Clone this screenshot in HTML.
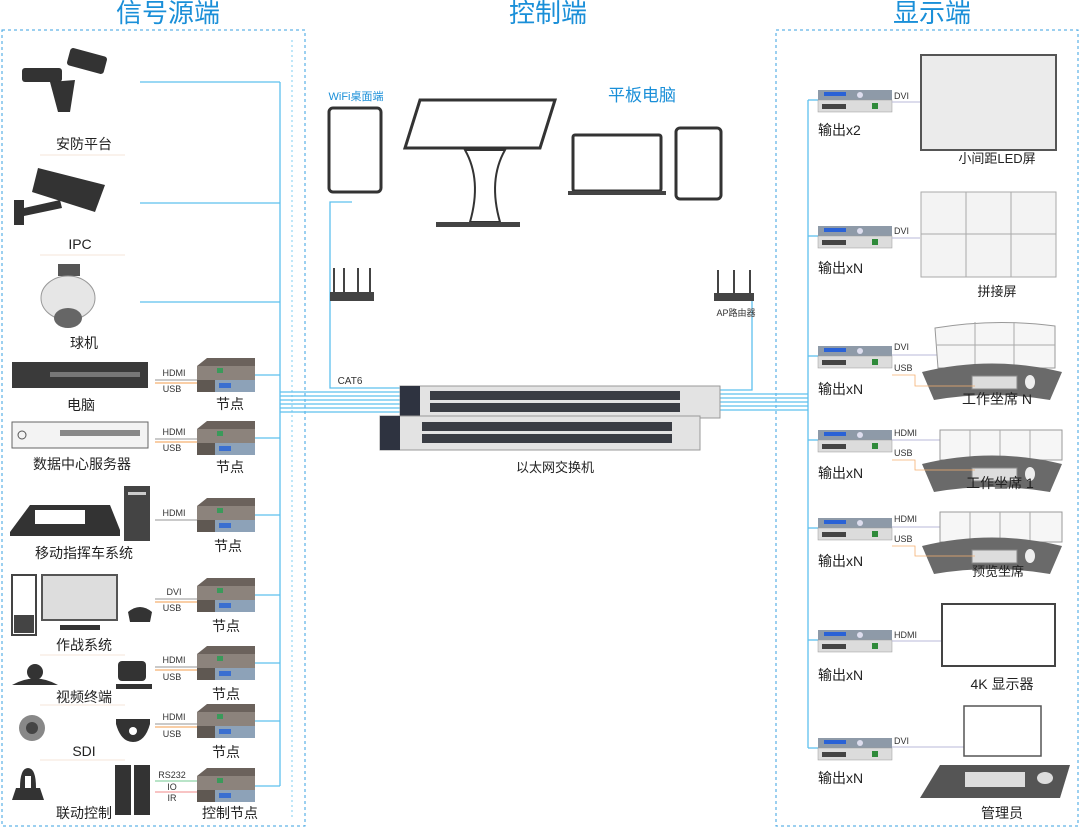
<!DOCTYPE html>
<html><head><meta charset="utf-8"><style>
html,body{margin:0;padding:0;background:#fff;}
svg{display:block;font-family:"Liberation Sans","Noto Sans CJK SC",sans-serif;}
</style></head><body>
<svg width="1080" height="828" viewBox="0 0 1080 828" xmlns="http://www.w3.org/2000/svg">
<defs>
<g id="node">
 <path d="M0 8 L10 0 L58 0 L58 22 L0 22 Z" fill="#6b625c"/>
 <path d="M0 8 L58 8 L58 22 L0 22 Z" fill="#8c837c"/>
 <rect x="20" y="10" width="6" height="5" fill="#3a9a5a"/>
 <rect x="0" y="22" width="58" height="12" fill="#5f5852"/>
 <rect x="18" y="22" width="40" height="12" fill="#8da2b8"/>
 <rect x="22" y="25" width="12" height="5" fill="#3a6fd0"/>
</g>
<g id="out">
 <rect x="0" y="0" width="74" height="10" fill="#8e9aa8"/>
 <rect x="6" y="2" width="22" height="4" fill="#2a62d6"/>
 <circle cx="42" cy="5" r="3" fill="#dde"/>
 <rect x="0" y="10" width="74" height="12" fill="#dcdcdc" stroke="#999" stroke-width="0.5"/>
 <rect x="4" y="14" width="24" height="5" fill="#444"/>
 <rect x="54" y="13" width="6" height="6" fill="#2f8a3a"/>
</g>
<g id="desk">
 <path d="M0 22 Q70 5 140 22 L128 50 Q70 40 12 50 Z" fill="#6a6a6a"/>
 <rect x="50" y="26" width="45" height="13" fill="#ddd" stroke="#888"/>
 <ellipse cx="108" cy="32" rx="5" ry="7" fill="#eee"/>
</g>
</defs>

<rect x="2" y="30" width="303" height="796" fill="none" stroke="#3aa0e0" stroke-dasharray="3,3"/>
<rect x="776" y="30" width="302" height="796" fill="none" stroke="#3aa0e0" stroke-dasharray="3,3"/>

<g fill="#1a8fd8" font-size="26" text-anchor="middle">
<text x="168" y="22">信号源端</text>
<text x="548" y="22">控制端</text>
<text x="932" y="22">显示端</text>
</g>

<g stroke="#5ec0ee" stroke-width="1.3" fill="none">
<line x1="280" y1="82" x2="280" y2="786"/>
<line x1="140" y1="82" x2="280" y2="82"/>
<line x1="140" y1="203" x2="280" y2="203"/>
<line x1="140" y1="302" x2="280" y2="302"/>
<line x1="255" y1="375" x2="280" y2="375"/>
<line x1="255" y1="438" x2="280" y2="438"/>
<line x1="255" y1="515" x2="280" y2="515"/>
<line x1="255" y1="595" x2="280" y2="595"/>
<line x1="255" y1="663" x2="280" y2="663"/>
<line x1="255" y1="721" x2="280" y2="721"/>
<line x1="255" y1="786" x2="280" y2="786"/>
<line x1="280" y1="392" x2="400" y2="392"/><line x1="280" y1="396" x2="400" y2="396"/>
<line x1="280" y1="400" x2="400" y2="400"/><line x1="280" y1="404" x2="400" y2="404"/>
<line x1="280" y1="408" x2="400" y2="408"/><line x1="280" y1="412" x2="400" y2="412"/>
<line x1="720" y1="394" x2="808" y2="394"/><line x1="720" y1="398" x2="808" y2="398"/>
<line x1="720" y1="402" x2="808" y2="402"/><line x1="720" y1="406" x2="808" y2="406"/>
<line x1="720" y1="410" x2="808" y2="410"/>
<line x1="808" y1="100" x2="808" y2="748"/>
<line x1="808" y1="100" x2="818" y2="100"/><line x1="808" y1="236" x2="818" y2="236"/>
<line x1="808" y1="356" x2="818" y2="356"/><line x1="808" y1="440" x2="818" y2="440"/>
<line x1="808" y1="528" x2="818" y2="528"/><line x1="808" y1="640" x2="818" y2="640"/>
<line x1="808" y1="748" x2="818" y2="748"/>
<path d="M352 202 L330 202 L330 388 L400 388"/>
<path d="M735 300 L752 300 L752 390 L720 390"/>
</g>
<line x1="292" y1="40" x2="292" y2="820" stroke="#5ec0ee" stroke-dasharray="2,3" stroke-width="0.8"/>

<g fill="#333">
<rect x="22" y="68" width="40" height="14" rx="3"/><rect x="68" y="52" width="38" height="18" rx="3" transform="rotate(15 87 61)"/>
<path d="M50 82 L75 80 L70 112 L58 112 Z"/>
<path d="M38 168 L105 185 L95 212 L32 192 Z"/><rect x="14" y="200" width="10" height="25"/><path d="M24 208 L60 200 L62 208 L24 216 Z"/>
<rect x="58" y="264" width="22" height="12" fill="#555"/>
<ellipse cx="68" cy="298" rx="27" ry="22" fill="#e6e6e6" stroke="#999"/>
<ellipse cx="68" cy="318" rx="14" ry="10" fill="#666"/>
<rect x="12" y="362" width="136" height="26" fill="#3a3a3a"/>
<rect x="50" y="372" width="90" height="5" fill="#777"/>
<rect x="12" y="422" width="136" height="26" fill="#f3f3f3" stroke="#666"/>
<rect x="60" y="430" width="80" height="6" fill="#888"/><circle cx="22" cy="435" r="4" fill="none" stroke="#555"/>
<path d="M10 532 L30 505 L110 505 L120 530 L120 536 L10 536 Z"/><rect x="35" y="510" width="50" height="14" fill="#fff"/>
<rect x="124" y="486" width="26" height="55" fill="#444"/><rect x="128" y="492" width="18" height="3" fill="#ccc"/>
<rect x="12" y="575" width="24" height="60" fill="#fff" stroke="#444" stroke-width="2"/>
<rect x="14" y="615" width="20" height="18" fill="#444"/>
<rect x="42" y="575" width="75" height="45" fill="#ddd" stroke="#555" stroke-width="2"/>
<rect x="60" y="625" width="40" height="5"/>
<path d="M128 612 Q140 602 152 612 L150 622 L130 622 Z"/>
<path d="M12 685 Q35 672 58 685 Z"/><circle cx="35" cy="672" r="8"/>
<rect x="118" y="661" width="28" height="20" rx="4"/><rect x="116" y="684" width="36" height="5"/>
<circle cx="32" cy="728" r="13" fill="#888"/><circle cx="32" cy="728" r="6" fill="#444"/>
<path d="M116 719 L150 719 L150 724 Q145 742 133 742 Q121 742 116 724 Z"/><circle cx="133" cy="731" r="4" fill="#fff"/>
<path d="M12 800 L16 788 L40 788 L44 800 Z"/><path d="M20 788 Q20 768 28 768 Q36 768 36 788 L31 788 L31 776 L25 776 L25 788 Z"/>
<rect x="115" y="765" width="16" height="50"/><rect x="134" y="765" width="16" height="50"/>
</g>
<g font-size="14" fill="#222" text-anchor="middle">
<text x="84" y="149">安防平台</text>
<text x="80" y="249">IPC</text>
<text x="84" y="348">球机</text>
<text x="81" y="410">电脑</text>
<text x="82" y="469">数据中心服务器</text>
<text x="84" y="558">移动指挥车系统</text>
<text x="84" y="650">作战系统</text>
<text x="84" y="702">视频终端</text>
<text x="84" y="756">SDI</text>
<text x="84" y="818">联动控制</text>
<text x="230" y="409">节点</text>
<text x="230" y="472">节点</text>
<text x="228" y="551">节点</text>
<text x="226" y="631">节点</text>
<text x="226" y="699">节点</text>
<text x="226" y="757">节点</text>
<text x="230" y="818">控制节点</text>
</g>
<g stroke="#f0dccc" stroke-width="0.8">
<line x1="40" y1="155" x2="125" y2="155"/><line x1="40" y1="255" x2="125" y2="255"/>
<line x1="40" y1="655" x2="125" y2="655"/><line x1="40" y1="705" x2="125" y2="705"/><line x1="40" y1="760" x2="125" y2="760"/>
</g>
<g font-size="9" fill="#333" text-anchor="middle">
<g transform="translate(197,358)"><use href="#node"/></g>
<g transform="translate(197,421)"><use href="#node"/></g>
<g transform="translate(197,498)"><use href="#node"/></g>
<g transform="translate(197,578)"><use href="#node"/></g>
<g transform="translate(197,646)"><use href="#node"/></g>
<g transform="translate(197,704)"><use href="#node"/></g>
<g transform="translate(197,768)"><use href="#node"/></g>
<text x="174" y="376">HDMI</text><text x="172" y="392">USB</text>
<text x="174" y="435">HDMI</text><text x="172" y="451">USB</text>
<text x="174" y="516">HDMI</text>
<text x="174" y="595">DVI</text><text x="172" y="611">USB</text>
<text x="174" y="663">HDMI</text><text x="172" y="680">USB</text>
<text x="174" y="720">HDMI</text><text x="172" y="737">USB</text>
<text x="172" y="778">RS232</text><text x="172" y="790">IO</text><text x="172" y="801">IR</text>
</g>
<g stroke-width="1.2">
<line x1="155" y1="380" x2="197" y2="380" stroke="#aaa"/><line x1="155" y1="383" x2="197" y2="383" stroke="#f5b070"/>
<line x1="155" y1="439" x2="197" y2="439" stroke="#aaa"/><line x1="155" y1="442" x2="197" y2="442" stroke="#f5b070"/>
<line x1="155" y1="520" x2="197" y2="520" stroke="#aaa"/>
<line x1="155" y1="599" x2="197" y2="599" stroke="#aaa"/><line x1="155" y1="602" x2="197" y2="602" stroke="#f5b070"/>
<line x1="155" y1="667" x2="197" y2="667" stroke="#aaa"/><line x1="155" y1="670" x2="197" y2="670" stroke="#f5b070"/>
<line x1="155" y1="724" x2="197" y2="724" stroke="#aaa"/><line x1="155" y1="727" x2="197" y2="727" stroke="#f5b070"/>
<line x1="155" y1="781" x2="197" y2="781" stroke="#8fd4a8"/><line x1="155" y1="792" x2="197" y2="792" stroke="#f4a0a0"/>
</g>

<rect x="329" y="108" width="52" height="84" rx="4" fill="#fff" stroke="#333" stroke-width="3"/>
<text x="356" y="100" font-size="11" fill="#1a8fd8" text-anchor="middle">WiFi桌面端</text>
<path d="M420 100 L555 100 L540 148 L405 148 Z" fill="#fff" stroke="#333" stroke-width="3"/>
<path d="M465 150 L505 150 Q488 180 500 222 L470 222 Q482 180 465 150 Z" fill="#fff" stroke="#333" stroke-width="2"/>
<rect x="436" y="222" width="84" height="5" fill="#444"/>
<text x="642" y="101" font-size="17" fill="#1a8fd8" text-anchor="middle">平板电脑</text>
<rect x="573" y="135" width="88" height="56" rx="2" fill="#fff" stroke="#333" stroke-width="3"/>
<rect x="568" y="191" width="98" height="4" fill="#444"/>
<rect x="676" y="128" width="45" height="71" rx="4" fill="#fff" stroke="#333" stroke-width="3"/>
<rect x="330" y="292" width="44" height="9" fill="#444"/><g stroke="#444" stroke-width="2"><line x1="334" y1="292" x2="334" y2="268"/><line x1="344" y1="292" x2="344" y2="268"/><line x1="358" y1="292" x2="358" y2="268"/><line x1="370" y1="292" x2="370" y2="268"/></g>
<rect x="714" y="293" width="40" height="8" fill="#444"/><g stroke="#444" stroke-width="2"><line x1="718" y1="293" x2="718" y2="270"/><line x1="734" y1="293" x2="734" y2="270"/><line x1="750" y1="293" x2="750" y2="270"/></g>
<text x="736" y="316" font-size="9" fill="#333" text-anchor="middle">AP路由器</text>
<text x="350" y="384" font-size="10" fill="#333" text-anchor="middle">CAT6</text>
<rect x="400" y="386" width="320" height="32" fill="#e3e3e3" stroke="#999"/>
<rect x="400" y="386" width="20" height="32" fill="#2e3340"/>
<rect x="380" y="416" width="320" height="34" fill="#e3e3e3" stroke="#999"/>
<rect x="380" y="416" width="20" height="34" fill="#2e3340"/>
<g fill="#3a3d44">
<rect x="430" y="391" width="250" height="9"/><rect x="430" y="403" width="250" height="9"/>
<rect x="422" y="422" width="250" height="9"/><rect x="422" y="434" width="250" height="9"/>
</g>
<text x="555" y="472" font-size="13" fill="#222" text-anchor="middle">以太网交换机</text>

<g transform="translate(818,90)"><use href="#out"/></g>
<g transform="translate(818,226)"><use href="#out"/></g>
<g transform="translate(818,346)"><use href="#out"/></g>
<g transform="translate(818,430)"><use href="#out"/></g>
<g transform="translate(818,518)"><use href="#out"/></g>
<g transform="translate(818,630)"><use href="#out"/></g>
<g transform="translate(818,738)"><use href="#out"/></g>
<g font-size="14" fill="#222">
<text x="818" y="135">输出x2</text><text x="818" y="273">输出xN</text><text x="818" y="394">输出xN</text>
<text x="818" y="478">输出xN</text><text x="818" y="566">输出xN</text><text x="818" y="680">输出xN</text><text x="818" y="783">输出xN</text>
</g>
<g font-size="9" fill="#333">
<text x="894" y="99">DVI</text><text x="894" y="234">DVI</text><text x="894" y="350">DVI</text><text x="894" y="371">USB</text>
<text x="894" y="436">HDMI</text><text x="894" y="456">USB</text><text x="894" y="522">HDMI</text><text x="894" y="542">USB</text>
<text x="894" y="638">HDMI</text><text x="894" y="744">DVI</text>
</g>
<g stroke="#b8b8d8" stroke-width="1"><line x1="892" y1="102" x2="920" y2="102"/><line x1="892" y1="238" x2="920" y2="238"/><line x1="892" y1="355" x2="938" y2="355"/><line x1="892" y1="440" x2="940" y2="440"/><line x1="892" y1="527" x2="940" y2="527"/><line x1="892" y1="641" x2="942" y2="641"/><line x1="892" y1="747" x2="964" y2="747"/></g>
<rect x="921" y="55" width="135" height="95" fill="#ebebeb" stroke="#555" stroke-width="2"/>
<text x="997" y="163" font-size="13" fill="#222" text-anchor="middle">小间距LED屏</text>
<rect x="921" y="192" width="135" height="85" fill="#f3f3f3" stroke="#aaa" stroke-width="1"/>
<g stroke="#aaa"><line x1="966" y1="192" x2="966" y2="277"/><line x1="1011" y1="192" x2="1011" y2="277"/><line x1="921" y1="234" x2="1056" y2="234"/></g>
<text x="997" y="296" font-size="13" fill="#222" text-anchor="middle">拼接屏</text>
<path d="M935 328 Q995 318 1055 326 L1055 368 L938 368 Z" fill="#f6f6f6" stroke="#999"/>
<g stroke="#aaa"><line x1="975" y1="322" x2="975" y2="368"/><line x1="1014" y1="322" x2="1014" y2="368"/><line x1="936" y1="345" x2="1055" y2="345"/></g>
<g transform="translate(922,350)"><use href="#desk"/></g>
<text x="997" y="404" font-size="14" fill="#222" text-anchor="middle">工作坐席 N</text>
<rect x="940" y="430" width="122" height="30" fill="#f6f6f6" stroke="#999"/>
<g stroke="#aaa"><line x1="970" y1="430" x2="970" y2="460"/><line x1="1000" y1="430" x2="1000" y2="460"/><line x1="1030" y1="430" x2="1030" y2="460"/></g>
<g transform="translate(922,442)"><use href="#desk"/></g>
<text x="1000" y="488" font-size="14" fill="#222" text-anchor="middle">工作坐席 1</text>
<rect x="940" y="512" width="122" height="30" fill="#f6f6f6" stroke="#999"/>
<g stroke="#aaa"><line x1="970" y1="512" x2="970" y2="542"/><line x1="1000" y1="512" x2="1000" y2="542"/><line x1="1030" y1="512" x2="1030" y2="542"/></g>
<g transform="translate(922,524)"><use href="#desk"/></g>
<text x="998" y="576" font-size="13" fill="#222" text-anchor="middle">预览坐席</text>
<rect x="942" y="604" width="113" height="62" fill="#fff" stroke="#444" stroke-width="2"/>
<text x="1002" y="689" font-size="14" fill="#222" text-anchor="middle">4K 显示器</text>
<rect x="964" y="706" width="77" height="50" fill="#fff" stroke="#555" stroke-width="1.5"/>
<path d="M940 765 L1070 765 L1060 798 L920 798 Z" fill="#555"/>
<rect x="965" y="772" width="60" height="15" fill="#ddd"/><ellipse cx="1045" cy="778" rx="8" ry="6" fill="#ddd"/>
<text x="1002" y="818" font-size="14" fill="#222" text-anchor="middle">管理员</text>
<g stroke="#f5b070" fill="none" stroke-width="0.8"><path d="M892 375 L915 375 L915 386 L975 386"/><path d="M892 460 L915 460 L915 470 L975 470"/><path d="M892 546 L915 546 L915 556 L975 556"/></g>
</svg>
</body></html>
